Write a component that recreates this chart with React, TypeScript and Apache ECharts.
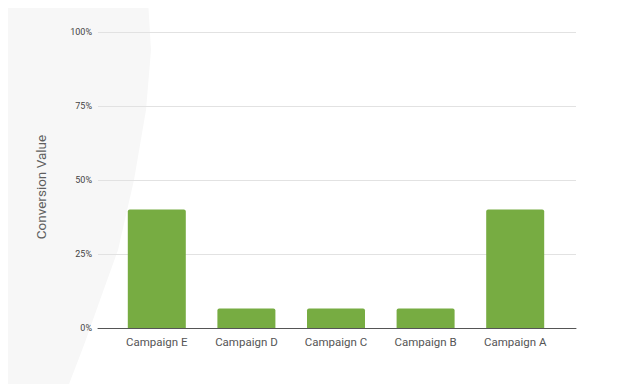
import React, { useEffect, useRef } from "react";
import * as echarts from "echarts";

const categories = ["Campaign E", "Campaign D", "Campaign C", "Campaign B", "Campaign A"];
const values = [40, 6.6, 6.6, 6.6, 40];
const yTicks = [0, 25, 50, 75, 100];
const yAxisTitle = "Conversion Value";

export default function App() {
  const ref = useRef<HTMLDivElement>(null);
  useEffect(() => {
    if (!ref.current) return;
    const chart = echarts.init(ref.current, null, { renderer: "svg" });
    chart.setOption({
      animation: false,
      backgroundColor: "#ffffff",
      graphic: [
        {
          type: "polygon",
          z: -10,
          silent: true,
          shape: {
            points: [
              [0, 0], [148, 0], [151, 50], [146, 110], [134, 180], [118, 250],
              [100, 300], [84, 345], [66, 392], [0, 392],
            ],
          },
          style: { fill: "#f7f7f7" },
        },
        {
          type: "text",
          x: 41,
          y: 187,
          rotation: Math.PI / 2,
          style: {
            text: yAxisTitle,
            fill: "#5f5f5f",
            font: "13.5px Roboto",
            align: "center",
            verticalAlign: "middle",
          },
        },
      ],
      grid: [
        { left: 98, right: 66, top: 32, bottom: 64 },
        { left: 112, right: 82, top: 32, bottom: 64 },
      ],
      xAxis: [
        {
          type: "category",
          gridIndex: 0,
          data: [""],
          axisLine: { show: true, lineStyle: { color: "#555555", width: 1 } },
          axisTick: { show: false },
          axisLabel: { show: false },
        },
        {
          type: "category",
          gridIndex: 1,
          data: categories,
          axisLine: { show: false },
          axisTick: { show: false },
          axisLabel: {
            color: "#555555",
            fontFamily: "Roboto",
            fontSize: 11.5,
            margin: 8,
            interval: 0,
          },
        },
      ],
      yAxis: [
        {
          type: "value",
          gridIndex: 0,
          min: 0,
          max: 100,
          interval: 25,
          axisLine: { show: false },
          axisTick: { show: false },
          axisLabel: {
            color: "#444444",
            fontFamily: "Roboto",
            fontSize: 9,
            margin: 6,
            formatter: (v: number) => (yTicks.includes(v) ? v + "%" : ""),
          },
          splitLine: { show: true, lineStyle: { color: "#e2e2e2", width: 1 } },
        },
        {
          type: "value",
          gridIndex: 1,
          min: 0,
          max: 100,
          interval: 25,
          show: false,
          splitLine: { show: false },
        },
      ],
      series: [
        {
          type: "bar",
          xAxisIndex: 1,
          yAxisIndex: 1,
          data: values,
          barWidth: 58,
          itemStyle: { color: "#77ac42", borderRadius: [2, 2, 0, 0] },
          z: 1,
        },
      ],
    });
    return () => chart.dispose();
  }, []);
  return <div ref={ref} style={{ width: 642, height: 392, margin: -8 }} />;
}
